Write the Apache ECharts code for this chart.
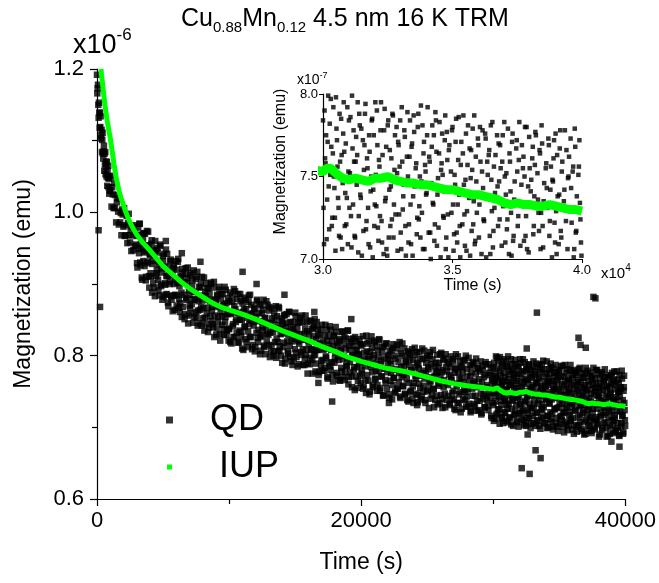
<!DOCTYPE html>
<html>
<head>
<meta charset="utf-8">
<script src="https://cdn.jsdelivr.net/npm/echarts@6/dist/echarts.min.js"></script>
<style>
  html, body { margin: 0; padding: 0; background: #fff; }
  #chart { width: 659px; height: 583px; }
</style>
</head>
<body>
<div id="chart"></div>
<script>
// time in s, magnetization in units of 1e-9 emu
const qdA = [
  [0,1192],[25,1166],[50,1173],[75,1178],[100,1150],[125,1132],[150,1153],[175,1139],[200,1118],[225,1139],
  [250,1119],[275,1134],[300,1103],[325,1107],[350,1115],[375,1084],[400,1101],[425,1111],[450,1082],[475,1075],
  [500,1085],[525,1093],[550,1058],[575,1082],[600,1067],[625,1084],[650,1053],[675,1063],[700,1071],[725,1050],
  [750,1070],[775,1037],[800,1058],[825,1048],[850,1065],[875,1035],[900,1047],[925,1026],[950,1051],[975,1031]
];
const qdB = [
  [1000,1030],[1050,1050],[1100,1008],[1150,1035],[1200,1025],[1250,1006],[1300,1041],[1350,1006],[1400,1024],[1450,986],
  [1500,1014],[1550,1020],[1600,1001],[1650,983],[1700,1019],[1750,986],[1800,999],[1850,968],[1900,1004],[1950,997],
  [2000,980],[2050,1006],[2100,967],[2150,982],[2200,968],[2250,995],[2300,957],[2350,985],[2400,998],[2450,968],
  [2500,958],[2550,976],[2600,946],[2650,980],[2700,968],[2750,947],[2800,982],[2850,953],[2900,972],[2950,955]
];
const qdC = [
  [3000,967],[3060,923],[3120,979],[3180,943],[3240,984],[3300,926],[3360,950],[3420,906],[3480,961],[3540,971],
  [3600,925],[3660,946],[3720,910],[3780,974],[3840,931],[3900,954],[3960,895],[4020,940],[4080,910],[4140,961],
  [4200,928],[4260,901],[4320,941],[4380,883],[4440,947],[4500,915],[4560,950],[4620,906],[4680,927],[4740,884],
  [4800,953],[4860,897],[4920,916],[4980,939],[5040,882],[5100,924],[5160,899],[5220,948],[5280,886],[5340,911],
  [5400,869],[5460,924],[5520,903],[5580,934],[5640,878],[5700,912],[5760,884],[5820,927],[5880,864],[5940,906],
  [6000,920],[6060,884],[6120,931],[6180,867],[6240,897],[6300,873],[6360,909],[6420,854],[6480,916],[6540,885],
  [6600,902],[6660,858],[6720,922],[6780,878],[6840,908],[6900,845],[6960,891],[7020,870],[7080,912],[7140,859],
  [7200,897],[7260,879],[7320,919],[7380,854],[7440,889],[7500,861],[7560,910],[7620,842],[7680,876],[7740,896],
  [7800,864],[7860,901],[7920,842],[7980,877],[8040,866],[8100,909],[8160,853],[8220,883],[8280,844],[8340,894],
  [8400,833],[8460,878],[8520,886],[8580,855],[8640,900],[8700,863],[8760,844],[8820,895],[8880,826],[8940,878],
  [9000,870],[9060,838],[9120,883],[9180,854],[9240,896],[9300,830],[9360,861],[9420,886],[9480,843],[9540,870],
  [9600,829],[9660,896],[9720,854],[9780,873],[9840,835],[9900,861],[9960,821]
];
const qdC2 = [
  [3030,929],[3090,968],[3150,949],[3210,984],[3270,930],[3330,956],[3390,909],[3450,970],[3510,932],[3570,944],
  [3630,970],[3690,905],[3750,954],[3810,929],[3870,973],[3930,911],[3990,942],[4050,915],[4110,956],[4170,888],
  [4230,932],[4290,947],[4350,895],[4410,960],[4470,911],[4530,920],[4590,944],[4650,891],[4710,931],[4770,955],
  [4830,899],[4890,922],[4950,878],[5010,932],[5070,942],[5130,901],[5190,885],[5250,911],[5310,942],[5370,874],
  [5430,916],[5490,900],[5550,932],[5610,883],[5670,918],[5730,862],[5790,922],[5850,900],[5910,885],[5970,932],
  [6030,870],[6090,902],[6150,935],[6210,879],[6270,861],[6330,911],[6390,888],[6450,921],[6510,868],[6570,902],
  [6630,851],[6690,914],[6750,880],[6810,902],[6870,923],[6930,856],[6990,885],[7050,866],[7110,915],[7170,872],
  [7230,905],[7290,846],[7350,889],[7410,878],[7470,907],[7530,853],[7590,917],[7650,863],[7710,880],[7770,845],
  [7830,895],[7890,868],[7950,910],[8010,852],[8070,884],[8130,835],[8190,889],[8250,901],[8310,859],[8370,867],
  [8430,894],[8490,839],[8550,876],[8610,902],[8670,848],[8730,868],[8790,840],[8850,903],[8910,856],[8970,878],
  [9030,829],[9090,885],[9150,847],[9210,868],[9270,892],[9330,821],[9390,879],[9450,855],[9510,886],[9570,837],
  [9630,871],[9690,847],[9750,892],[9810,829],[9870,858],[9930,880],[9990,838]
];
const qdD = [
  [10000,837],[10060,888],[10120,860],[10180,817],[10240,875],[10300,844],[10360,893],[10420,826],[10480,865],[10540,850],
  [10600,879],[10660,818],[10720,859],[10780,835],[10840,886],[10900,827],[10960,850],[11020,873],[11080,808],[11140,865],
  [11200,841],[11260,878],[11320,819],[11380,857],[11440,834],[11500,884],[11560,826],[11620,849],[11680,871],[11740,809],
  [11800,859],[11860,842],[11920,865],[11980,812],[12040,850],[12100,876],[12160,825],[12220,836],[12280,860],[12340,802],
  [12400,870],[12460,828],[12520,841],[12580,864],[12640,814],[12700,852],[12760,802],[12820,876],[12880,830],[12940,846],
  [13000,815],[13060,868],[13120,832],[13180,806],[13240,852],[13300,839],[13360,800],[13420,859],[13480,819],[13540,869],
  [13600,824],[13660,843],[13720,806],[13780,866],[13840,813],[13900,830],[13960,852],[14020,790],[14080,844],[14140,818],
  [14200,857],[14260,796],[14320,834],[14380,846],[14440,806],[14500,829],[14560,861],[14620,798],[14680,837],[14740,820],
  [14800,787],[14860,847],[14920,832],[14980,809],[15040,855],[15100,798],[15160,839],[15220,820],[15280,788],[15340,847],
  [15400,830],[15460,801],[15520,856],[15580,809],[15640,822],[15700,787],[15760,838],[15820,801],[15880,847],[15940,775],
  [16000,821],[16060,830],[16120,788],[16180,848],[16240,808],[16300,794],[16360,839],[16420,801],[16480,851],[16540,778],
  [16600,823],[16660,808],[16720,838],[16780,773],[16840,828],[16900,817],[16960,786],[17020,843],[17080,794],[17140,808],
  [17200,779],[17260,828],[17320,799],[17380,836],[17440,770],[17500,815],[17560,789],[17620,841],[17680,780],[17740,808],
  [17800,820],[17860,764],[17920,827],[17980,790],[18040,804],[18100,833],[18160,772],[18220,814],[18280,794],[18340,823],
  [18400,765],[18460,808],[18520,778],[18580,834],[18640,795],[18700,816],[18760,766],[18820,824],[18880,786],[18940,796],
  [19000,835],[19060,770],[19120,808],[19180,777],[19240,823],[19300,756],[19360,800],[19420,814],[19480,784],[19540,826],
  [19600,771],[19660,807],[19720,755],[19780,801],[19840,789],[19900,816],[19960,762]
];
const qdD2 = [
  [10030,876],[10090,819],[10150,858],[10210,884],[10270,841],[10330,826],[10390,869],[10450,890],[10510,847],[10570,832],
  [10630,860],[10690,886],[10750,819],[10810,850],[10870,876],[10930,833],[10990,810],[11050,861],[11110,881],[11170,840],
  [11230,823],[11290,865],[11350,853],[11410,812],[11470,875],[11530,844],[11590,885],[11650,826],[11710,858],[11770,815],
  [11830,847],[11890,867],[11950,806],[12010,854],[12070,832],[12130,878],[12190,819],[12250,848],[12310,872],[12370,826],
  [12430,807],[12490,859],[12550,835],[12610,878],[12670,812],[12730,853],[12790,839],[12850,820],[12910,871],[12970,829],
  [13030,863],[13090,798],[13150,845],[13210,814],[13270,866],[13330,833],[13390,806],[13450,850],[13510,838],[13570,797],
  [13630,855],[13690,819],[13750,868],[13810,807],[13870,838],[13930,800],[13990,848],[14050,831],[14110,812],[14170,856],
  [14230,789],[14290,840],[14350,858],[14410,820],[14470,803],[14530,861],[14590,814],[14650,847],[14710,792],[14770,830],
  [14830,839],[14890,796],[14950,823],[15010,860],[15070,804],[15130,830],[15190,785],[15250,846],[15310,817],[15370,853],
  [15430,805],[15490,823],[15550,847],[15610,787],[15670,830],[15730,796],[15790,856],[15850,808],[15910,834],[15970,789],
  [16030,816],[16090,849],[16150,797],[16210,809],[16270,837],[16330,775],[16390,827],[16450,842],[16510,801],[16570,789],
  [16630,847],[16690,808],[16750,830],[16810,777],[16870,816],[16930,836],[16990,793],[17050,779],[17110,819],[17170,810],
  [17230,783],[17290,843],[17350,797],[17410,821],[17470,768],[17530,827],[17590,810],[17650,785],[17710,836],[17770,791],
  [17830,773],[17890,813],[17950,828],[18010,796],[18070,840],[18130,776],[18190,818],[18250,799],[18310,766],[18370,821],
  [18430,807],[18490,783],[18550,833],[18610,770],[18670,800],[18730,826],[18790,777],[18850,810],[18910,786],[18970,835],
  [19030,760],[19090,814],[19150,791],[19210,819],[19270,771],[19330,800],[19390,824],[19450,780],[19510,752],[19570,808],
  [19630,820],[19690,784],[19750,765],[19810,802],[19870,823],[19930,772],[19990,793]
];
const qdE = [
  [20000,814],[20060,775],[20120,827],[20180,757],[20240,795],[20300,785],[20360,748],[20420,806],[20480,817],[20540,765],
  [20600,799],[20660,750],[20720,788],[20780,827],[20840,777],[20900,759],[20960,801],[21020,819],[21080,768],[21140,789],
  [21200,751],[21260,807],[21320,778],[21380,822],[21440,755],[21500,793],[21560,771],[21620,812],[21680,744],[21740,796],
  [21800,782],[21860,762],[21920,817],[21980,777],[22040,799],[22100,746],[22160,807],[22220,765],[22280,788],[22340,739],
  [22400,811],[22460,769],[22520,800],[22580,750],[22640,781],[22700,815],[22760,754],[22820,791],[22880,776],[22940,743],
  [23000,803],[23060,770],[23120,817],[23180,757],[23240,785],[23300,746],[23360,793],[23420,776],[23480,738],[23540,806],
  [23600,762],[23660,796],[23720,749],[23780,780],[23840,809],[23900,757],[23960,734],[24020,801],[24080,784],[24140,768],
  [24200,805],[24260,745],[24320,787],[24380,761],[24440,796],[24500,739],[24560,775],[24620,810],[24680,750],[24740,779],
  [24800,768],[24860,734],[24920,790],[24980,800],[25040,752],[25100,781],[25160,761],[25220,805],[25280,740],[25340,770],
  [25400,795],[25460,754],[25520,728],[25580,785],[25640,778],[25700,744],[25760,801],[25820,761],[25880,790],[25940,734],
  [26000,771],[26060,804],[26120,740],[26180,780],[26240,756],[26300,796],[26360,728],[26420,784],[26480,762],[26540,791],
  [26600,744],[26660,773],[26720,733],[26780,799],[26840,766],[26900,748],[26960,792],[27020,739],[27080,776],[27140,724],
  [27200,783],[27260,761],[27320,799],[27380,734],[27440,768],[27500,749],[27560,785],[27620,726],[27680,777],[27740,793],
  [27800,752],[27860,738],[27920,800],[27980,743],[28040,771],[28100,729],[28160,762],[28220,787],[28280,721],[28340,777],
  [28400,754],[28460,791],[28520,732],[28580,765],[28640,744],[28700,796],[28760,737],[28820,782],[28880,724],[28940,757],
  [29000,778],[29060,747],[29120,720],[29180,786],[29240,740],[29300,770],[29360,728],[29420,791],[29480,744],[29540,759],
  [29600,730],[29660,788],[29720,749],[29780,773],[29840,716],[29900,765],[29960,734]
];
const qdE2 = [
  [20030,780],[20090,816],[20150,754],[20210,804],[20270,791],[20330,766],[20390,828],[20450,773],[20510,795],[20570,820],
  [20630,746],[20690,805],[20750,784],[20810,811],[20870,756],[20930,796],[20990,821],[21050,767],[21110,779],[21170,813],
  [21230,759],[21290,798],[21350,823],[21410,751],[21470,788],[21530,771],[21590,805],[21650,745],[21710,813],[21770,782],
  [21830,766],[21890,817],[21950,754],[22010,790],[22070,801],[22130,741],[22190,793],[22250,776],[22310,808],[22370,759],
  [22430,816],[22490,769],[22550,748],[22610,796],[22670,780],[22730,754],[22790,810],[22850,763],[22910,819],[22970,741],
  [23030,784],[23090,800],[23150,758],[23210,773],[23270,810],[23330,747],[23390,791],[23450,767],[23510,801],[23570,736],
  [23630,787],[23690,804],[23750,751],[23810,778],[23870,740],[23930,794],[23990,762],[24050,811],[24110,772],[24170,747],
  [24230,790],[24290,735],[24350,782],[24410,805],[24470,755],[24530,772],[24590,743],[24650,795],[24710,758],[24770,807],
  [24830,738],[24890,776],[24950,797],[25010,750],[25070,784],[25130,727],[25190,800],[25250,764],[25310,788],[25370,745],
  [25430,808],[25490,753],[25550,771],[25610,738],[25670,790],[25730,776],[25790,732],[25850,783],[25910,758],[25970,802],
  [26030,745],[26090,777],[26150,727],[26210,794],[26270,766],[26330,747],[26390,802],[26450,738],[26510,778],[26570,759],
  [26630,789],[26690,731],[26750,784],[26810,770],[26870,739],[26930,795],[26990,751],[27050,726],[27110,781],[27170,802],
  [27230,758],[27290,734],[27350,777],[27410,746],[27470,792],[27530,721],[27590,769],[27650,784],[27710,739],[27770,763],
  [27830,794],[27890,749],[27950,729],[28010,781],[28070,753],[28130,797],[28190,733],[28250,771],[28310,723],[28370,786],
  [28430,744],[28490,762],[28550,789],[28610,729],[28670,775],[28730,756],[28790,723],[28850,783],[28910,767],[28970,737],
  [29030,792],[29090,718],[29150,763],[29210,780],[29270,746],[29330,728],[29390,773],[29450,788],[29510,738],[29570,756],
  [29630,724],[29690,776],[29750,741],[29810,783],[29870,713],[29930,767],[29990,748]
];
const qdF1 = [
  [30000,784],[30040,709],[30080,761],[30120,775],[30160,736],[30200,799],[30240,718],[30280,751],[30320,768],[30360,725],
  [30400,792],[30440,743],[30480,705],[30520,779],[30560,756],[30600,731],[30640,788],[30680,713],[30720,763],[30760,746],
  [30800,795],[30840,720],[30880,770],[30920,737],[30960,709],[31000,784],[31040,752],[31080,726],[31120,799],[31160,733],
  [31200,759],[31240,713],[31280,774],[31320,763],[31360,704],[31400,788],[31440,739],[31480,779],[31520,747],[31560,717],
  [31600,769],[31640,794],[31680,723],[31720,755],[31760,709],[31800,765],[31840,741],[31880,784],[31920,701],[31960,775],
  [32000,733],[32040,751],[32080,790],[32120,719],[32160,760],[32200,726],[32240,795],[32280,710],[32320,748],[32360,778],
  [32400,735],[32440,768],[32480,702],[32520,784],[32560,742],[32600,720],[32640,761],[32680,788],[32720,713],[32760,754],
  [32800,727],[32840,780],[32880,705],[32920,769],[32960,756],[33000,716],[33040,792],[33080,730],[33120,745],[33160,774],
  [33200,702],[33240,762],[33280,750],[33320,721],[33360,784],[33400,709],[33440,770],[33480,738],[33520,777],[33560,698],
  [33600,758],[33640,725],[33680,788],[33720,732],[33760,713],[33800,747],[33840,781],[33880,764],[33920,706],[33960,753],
  [34000,740],[34040,792],[34080,716],[34120,759],[34160,700],[34200,768],[34240,734],[34280,775],[34320,721],[34360,784],
  [34400,708],[34440,749],[34480,764],[34520,697],[34560,754],[34600,776],[34640,726],[34680,741],[34720,787],[34760,713],
  [34800,760],[34840,701],[34880,769],[34920,742],[34960,728],[35000,780],[35040,705],[35080,751],[35120,771],[35160,716],
  [35200,733],[35240,786],[35280,720],[35320,757],[35360,693],[35400,764],[35440,745],[35480,708],[35520,776],[35560,729],
  [35600,781],[35640,737],[35680,702],[35720,766],[35760,754],[35800,721],[35840,787],[35880,711],[35920,747],[35960,697],
  [36000,769],[36040,733],[36080,759],[36120,703],[36160,778],[36200,724],[36240,738],[36280,773],[36320,694],[36360,751],
  [36400,763],[36440,714],[36480,781],[36520,729],[36560,707],[36600,756],[36640,740],[36680,698],[36720,775],[36760,720],
  [36800,747],[36840,769],[36880,690],[36920,759],[36960,732],[37000,783],[37040,710],[37080,752],[37120,724],[37160,695],
  [37200,764],[37240,741],[37280,702],[37320,776],[37360,714],[37400,747],[37440,692],[37480,772],[37520,720],[37560,760],
  [37600,734],[37640,699],[37680,769],[37720,755],[37760,711],[37800,780],[37840,726],[37880,706],[37920,744],[37960,774],
  [38000,687],[38040,748],[38080,761],[38120,715],[38160,738],[38200,777],[38240,696],[38280,752],[38320,728],[38360,766],
  [38400,706],[38440,781],[38480,720],[38520,735],[38560,699],[38600,755],[38640,743],[38680,688],[38720,769],[38760,723],
  [38800,756],[38840,701],[38880,747],[38920,772],[38960,710],[39000,729],[39040,763],[39080,692],[39120,739],[39160,778],
  [39200,713],[39240,759],[39280,696],[39320,742],[39360,731],[39400,766],[39440,706],[39480,750],[39520,689],[39560,773],
  [39600,722],[39640,753],[39680,701],[39720,779],[39760,716],[39800,738],[39840,693],[39880,756],[39920,734],[39960,710]
];
const qdF2 = [
  [30020,731],[30060,790],[30100,758],[30140,712],[30180,771],[30220,744],[30260,782],[30300,797],[30340,720],[30380,764],
  [30420,750],[30460,725],[30500,798],[30540,772],[30580,737],[30620,714],[30660,759],[30700,785],[30740,706],[30780,776],
  [30820,765],[30860,740],[30900,721],[30940,792],[30980,753],[31020,731],[31060,786],[31100,707],[31140,767],[31180,778],
  [31220,714],[31260,759],[31300,745],[31340,795],[31380,726],[31420,781],[31460,737],[31500,702],[31540,772],[31580,754],
  [31620,788],[31660,718],[31700,761],[31740,731],[31780,775],[31820,707],[31860,750],[31900,785],[31940,742],[31980,720],
  [32020,795],[32060,732],[32100,769],[32140,711],[32180,756],[32220,778],[32260,723],[32300,763],[32340,703],[32380,791],
  [32420,737],[32460,750],[32500,781],[32540,713],[32580,766],[32620,744],[32660,724],[32700,787],[32740,733],[32780,775],
  [32820,699],[32860,752],[32900,771],[32940,727],[32980,784],[33020,706],[33060,759],[33100,738],[33140,778],[33180,720],
  [33220,745],[33260,789],[33300,710],[33340,762],[33380,733],[33420,768],[33460,702],[33500,787],[33540,744],[33580,755],
  [33620,715],[33660,780],[33700,724],[33740,750],[33780,793],[33820,728],[33860,706],[33900,771],[33940,757],[33980,739],
  [34020,775],[34060,699],[34100,762],[34140,716],[34180,746],[34220,781],[34260,733],[34300,711],[34340,789],[34380,765],
  [34420,739],[34460,719],[34500,783],[34540,701],[34580,758],[34620,751],[34660,725],[34700,772],[34740,706],[34780,777],
  [34820,727],[34860,766],[34900,695],[34940,753],[34980,778],[35020,733],[35060,715],[35100,745],[35140,785],[35180,710],
  [35220,760],[35260,739],[35300,701],[35340,771],[35380,721],[35420,787],[35460,727],[35500,748],[35540,705],[35580,757],
  [35620,696],[35660,767],[35700,749],[35740,717],[35780,779],[35820,735],[35860,709],[35900,762],[35940,728],[35980,773],
  [36020,713],[36060,780],[36100,691],[36140,753],[36180,743],[36220,723],[36260,776],[36300,701],[36340,759],[36380,738],
  [36420,766],[36460,703],[36500,748],[36540,783],[36580,717],[36620,731],[36660,763],[36700,695],[36740,744],[36780,770],
  [36820,724],[36860,755],[36900,708],[36940,775],[36980,691],[37020,750],[37060,739],[37100,718],[37140,779],[37180,703],
  [37220,759],[37260,728],[37300,771],[37340,711],[37380,736],[37420,695],[37460,767],[37500,753],[37540,726],[37580,783],
  [37620,708],[37660,745],[37700,697],[37740,762],[37780,750],[37820,714],[37860,780],[37900,732],[37940,704],[37980,755],
  [38020,741],[38060,690],[38100,768],[38140,720],[38180,757],[38220,775],[38260,699],[38300,736],[38340,717],[38380,764],
  [38420,728],[38460,770],[38500,707],[38540,746],[38580,687],[38620,758],[38660,731],[38700,773],[38740,714],[38780,742],
  [38820,691],[38860,748],[38900,761],[38940,722],[38980,776],[39020,703],[39060,738],[39100,709],[39140,767],[39180,717],
  [39220,753],[39260,694],[39300,735],[39340,778],[39380,723],[39420,699],[39460,749],[39500,762],[39540,688],[39580,743],
  [39620,730],[39660,756],[39700,706],[39740,768],[39780,717],[39820,691],[39860,751],[39900,772],[39940,724],[39980,702]
];
// stray points off the main band
const qdStray = [
  [120,975],[230,868],[5210,960],[6420,943],[7830,931],[11020,917],[12080,900],[14190,885],[16450,861],[16760,762],
  [17800,736],[19250,851],[22100,734],[24230,731],[32150,643],[32450,706],[32530,810],[32600,690],[32750,635],[33200,668],
  [33300,860],[33580,657],[36450,825],[36600,815],[37000,811],[37580,882],[37730,880],[38940,680],[39550,673]
];
const iup = [
  [300,1200],[400,1182],[500,1166],[600,1150],[750,1130],[900,1114],[1000,1104],[1150,1085],[1300,1066],[1450,1049],
  [1650,1031],[1800,1021],[2000,1010],[2250,997],[2500,986],[2750,977],[3000,969],[3500,957],[4000,947],[4500,936],
  [5000,925],[5500,917],[6000,909],[6500,901],[7000,894],[7500,888],[8000,882],[8500,876],[9000,871],[9500,867],
  [10000,864],[11000,858],[12000,851],[13000,843],[14000,835],[15000,828],[16000,821],[17000,813],[18000,806],[19000,798],
  [20000,792],[21000,787],[22000,782],[23000,779],[24000,775],[25000,770],[26000,765],[27000,761],[28000,758],[29000,756],
  [30000,753],[30150,755],[30300,755],[30500,752],[30750,749],[31000,748],[31250,749],[31500,748],[31750,747],[32000,749],
  [32250,749],[32500,750],[32750,748],[33000,747],[33250,746],[33500,746],[33750,745],[34000,745],[34250,744],[34500,743],
  [34750,742],[35000,742],[35250,741],[35500,740],[35750,739],[36000,739],[36250,738],[36500,737],[36750,736],[37000,734],
  [37250,733],[37500,734],[37750,733],[38000,733],[38250,732],[38500,732],[38750,733],[39000,732],[39250,731],[39500,730],
  [39750,730],[40000,729]
];

const FONT = "'Liberation Sans', Arial, sans-serif";
// nano-emu -> units of 1e-6 emu
const toMicro = p => [p[0], p[1] / 1000];
const qdAll = [].concat(qdA, qdB, qdC, qdC2, qdD, qdD2, qdE, qdE2, qdF1, qdF2, qdStray).map(toMicro);
const iupAll = iup.map(toMicro);

const txt = (size, lh, va, extra) => Object.assign(
  { fontSize: size, lineHeight: lh, verticalAlign: va, fontFamily: FONT, fontWeight: 'normal', color: '#000' },
  extra || {}
);

const axisBase = {
  axisLine: { show: true, onZero: false, lineStyle: { color: '#000', width: 1.2 } },
  splitLine: { show: false },
  nameLocation: 'middle'
};

const options = {
  animation: false,
  backgroundColor: '#fff',
  title: [
    {
      left: 176, top: 2,
      text: '{n|Cu}{s|0.88}{n|Mn}{s|0.12}{n| 4.5 nm 16 K TRM}',
      textStyle: {
        fontWeight: 'normal',
        rich: { n: txt(25, 28, 'top'), s: txt(15, 18, 'bottom', { padding: [12, 0, 0, 0] }) }
      }
    },
    {
      left: 68, top: 22,
      text: '{a|x10}{b|-6}',
      textStyle: { fontWeight: 'normal', rich: { a: txt(27, 32, 'bottom'), b: txt(17, 17, 'top') } }
    },
    {
      left: 292, top: 66,
      text: '{a|x10}{b|-7}',
      textStyle: { fontWeight: 'normal', rich: { a: txt(14, 16, 'bottom'), b: txt(9, 9, 'top') } }
    },
    {
      left: 596, top: 258,
      text: '{a|x10}{b|4}',
      textStyle: { fontWeight: 'normal', rich: { a: txt(15, 18, 'bottom'), b: txt(10, 10, 'top') } }
    }
  ],
  legend: [
    {
      data: ['QD'], left: 161, top: 397, orient: 'vertical',
      icon: 'rect', itemWidth: 7, itemHeight: 7,
      textStyle: { fontSize: 36, fontFamily: FONT, color: '#000', padding: [0, 0, 0, 32] }
    },
    {
      data: ['IUP'], left: 162, top: 444, orient: 'vertical',
      icon: 'rect', itemWidth: 5, itemHeight: 5,
      textStyle: { fontSize: 36, fontFamily: FONT, color: '#000', padding: [0, 0, 0, 42] }
    }
  ],
  grid: [
    { left: 97, top: 69, width: 530, height: 430 },
    { left: 323, top: 94, width: 259, height: 165 }
  ],
  xAxis: [
    Object.assign({}, axisBase, {
      type: 'value', gridIndex: 0, min: 0, max: 40000, interval: 20000,
      axisTick: { show: true, length: 7, lineStyle: { color: '#000', width: 1.2 } },
      minorTick: { show: true, splitNumber: 2, length: 5, lineStyle: { color: '#000', width: 1.2 } },
      axisLabel: { fontSize: 22, color: '#000', fontFamily: FONT, margin: 11, formatter: v => String(v) },
      name: 'Time (s)', nameGap: 52,
      nameTextStyle: { fontSize: 23, color: '#000', fontFamily: FONT }
    }),
    Object.assign({}, axisBase, {
      type: 'value', gridIndex: 1, min: 30000, max: 40000, interval: 5000,
      axisTick: { show: true, length: 4, lineStyle: { color: '#000' } },
      axisLabel: {
        fontSize: 13, color: '#000', fontFamily: FONT, margin: 5,
        formatter: v => (v / 10000).toFixed(1)
      },
      name: 'Time (s)', nameGap: 19,
      nameTextStyle: { fontSize: 16, color: '#000', fontFamily: FONT, padding: [0, 0, 0, 40] }
    })
  ],
  yAxis: [
    Object.assign({}, axisBase, {
      type: 'value', gridIndex: 0, min: 0.6, max: 1.2, interval: 0.2,
      axisTick: { show: true, length: 7, lineStyle: { color: '#000', width: 1.2 } },
      minorTick: { show: true, splitNumber: 2, length: 5, lineStyle: { color: '#000', width: 1.2 } },
      axisLabel: {
        fontSize: 22, color: '#000', fontFamily: FONT, margin: 13,
        formatter: v => v.toFixed(1)
      },
      name: 'Magnetization (emu)', nameGap: 62,
      nameTextStyle: { fontSize: 23, color: '#000', fontFamily: FONT }
    }),
    Object.assign({}, axisBase, {
      type: 'value', gridIndex: 1, min: 0.7, max: 0.8, interval: 0.05,
      axisTick: { show: true, length: 4, lineStyle: { color: '#000' } },
      axisLabel: {
        fontSize: 13, color: '#000', fontFamily: FONT, margin: 5,
        formatter: v => (v * 10).toFixed(1)
      },
      name: 'Magnetization (emu)', nameGap: 34,
      nameTextStyle: { fontSize: 16, color: '#000', fontFamily: FONT, padding: [0, 0, 0, 30] }
    })
  ],
  series: [
    {
      name: 'QD', type: 'scatter', xAxisIndex: 0, yAxisIndex: 0,
      symbol: 'rect', symbolSize: 6.5, data: qdAll,
      itemStyle: { color: '#000' }
    },
    {
      name: 'IUP', type: 'line', xAxisIndex: 0, yAxisIndex: 0,
      symbol: 'none', data: iupAll,
      itemStyle: { color: '#00ff00' },
      lineStyle: { color: '#00ff00', width: 5 }
    },
    {
      name: 'QD', type: 'scatter', xAxisIndex: 1, yAxisIndex: 1,
      symbol: 'rect', symbolSize: 4.5, data: qdAll, clip: true,
      itemStyle: { color: '#000' }
    },
    {
      name: 'IUP', type: 'line', xAxisIndex: 1, yAxisIndex: 1,
      symbol: 'none', data: iupAll, clip: true,
      itemStyle: { color: '#00ff00' },
      lineStyle: { color: '#00ff00', width: 9 }
    }
  ]
};

const chart = echarts.init(document.getElementById('chart'));
chart.setOption(options);
</script>
</body>
</html>
